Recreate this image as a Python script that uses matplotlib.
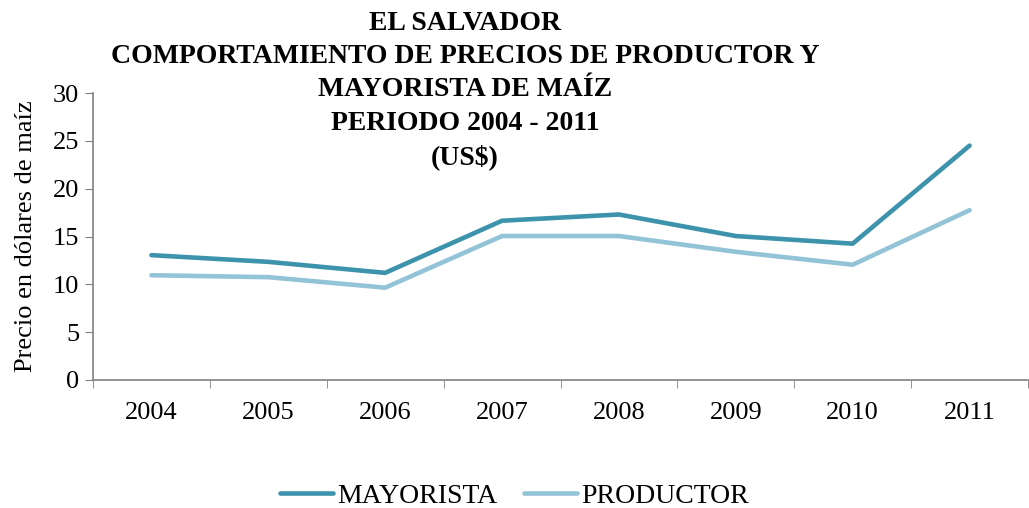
"""
    El Salvador maize producer / wholesale prices 2004-2011
"""
import matplotlib.pyplot as plt
import numpy as np

years = ['2004', '2005', '2006', '2007', '2008', '2009', '2010', '2011']
mayorista = [13.05, 12.35, 11.2, 16.65, 17.3, 15.05, 14.25, 24.5]
productor = [10.95, 10.75, 9.65, 15.05, 15.05, 13.4, 12.05, 17.75]

title = ('EL SALVADOR\nCOMPORTAMIENTO DE PRECIOS DE PRODUCTOR Y\n'
         'MAYORISTA DE MAÍZ\nPERIODO 2004 - 2011\n(US$)')


def plot():
    plt.rcParams['font.family'] = ['Liberation Serif', 'DejaVu Serif']
    fig = plt.figure(figsize=(10.29, 5.08), dpi=100)
    ax = fig.add_axes([93 / 1029, 128 / 508, 935 / 1029, 287 / 508])

    x = np.arange(len(years))
    ax.plot(x, mayorista, color='#3d93ac', lw=3.3, solid_capstyle='round',
            solid_joinstyle='round', label='MAYORISTA')
    ax.plot(x, productor, color='#92c3d6', lw=3.3, solid_capstyle='round',
            solid_joinstyle='round', label='PRODUCTOR')

    ax.set_xlim(-0.5, len(years) - 0.5)
    ax.set_ylim(0, 30)
    ax.set_yticks(range(0, 31, 5))
    ax.set_xticks(x)
    ax.set_xticklabels(years)
    ax.set_xticks(np.arange(-0.5, len(years)), minor=True)
    ax.tick_params(axis='x', which='major', length=0, pad=16, labelsize=19)
    ax.tick_params(axis='x', which='minor', length=6, color='#808080')
    ax.tick_params(axis='y', length=6, color='#808080', labelsize=19, pad=4)

    for side in ['top', 'right']:
        ax.spines[side].set_visible(False)
    for side in ['left', 'bottom']:
        ax.spines[side].set_color('#808080')
        ax.spines[side].set_linewidth(1.2)

    ax.set_ylabel('Precio en dólares de maíz', fontsize=19, labelpad=11)

    fig.text(465 / 1029, 1 - 11 / 508, title, ha='center', va='top',
             fontsize=20, fontweight='bold', linespacing=1.43)

    fig.legend(loc='center', bbox_to_anchor=(0.5, 1 - 496 / 508), ncol=2,
               frameon=False, fontsize=20, handlelength=1.9,
               handletextpad=0.15, columnspacing=0.95)

    fig.savefig('out.png', dpi=100)
    plt.close(fig)


if __name__ == '__main__':
    plot()
